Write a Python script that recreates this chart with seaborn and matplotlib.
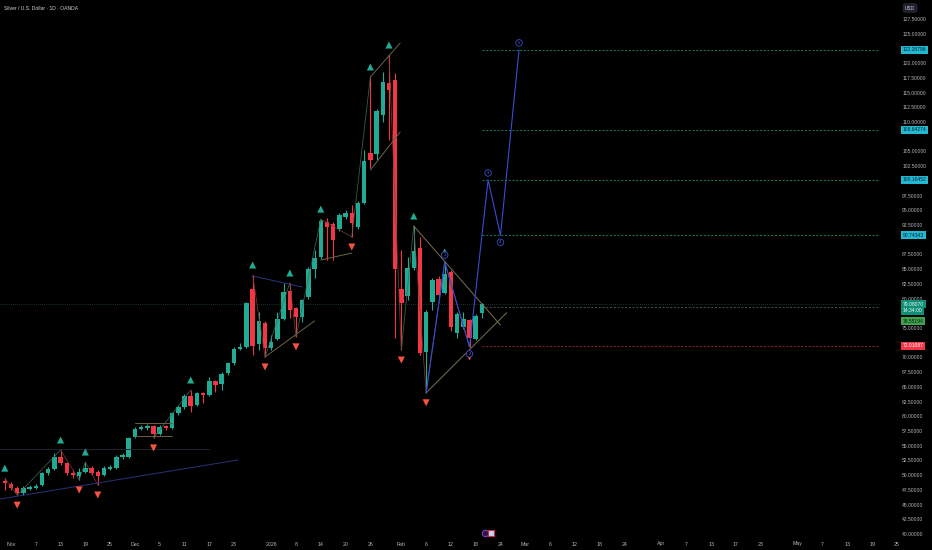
import numpy as np
import pandas as pd
import matplotlib
matplotlib.use("Agg")
import matplotlib.pyplot as plt
import seaborn as sns

# daily candles XAG/USD, 2025-10-31 .. 2026-02-19
opens = [49.01, 48.50, 47.82, 46.97, 47.65, 47.82, 48.33, 50.37, 51.05, 53.09,
         52.07, 50.37, 49.86, 50.54, 51.22, 50.54, 50.03, 51.05, 51.22, 53.10,
         53.09, 56.49, 57.85, 58.00, 58.35, 56.99, 58.35, 58.00, 60.56, 61.58,
         63.45, 61.92, 63.96, 63.62, 66.00, 65.49, 67.36, 69.06, 71.44, 71.78,
         81.63, 72.29, 75.86, 71.61, 73.14, 76.53, 81.29, 78.40, 76.87, 80.27,
         85.03, 87.07, 93.01, 92.67, 91.82, 93.86, 94.54, 92.16, 96.24, 104.73,
         104.56, 111.19, 116.63, 117.14, 81.63, 80.44, 85.20, 88.59, 70.93, 79.42,
         83.33, 80.95, 84.52, 74.16, 75.17, 76.36, 73.14, 77.55]
highs = [49.50, 48.80, 48.10, 48.20, 48.30, 48.50, 50.60, 51.40, 53.77, 54.28,
         52.30, 50.88, 51.22, 52.24, 51.50, 50.80, 51.50, 51.70, 53.40, 53.70,
         56.50, 58.10, 58.50, 58.70, 58.60, 58.50, 58.60, 60.80, 61.90, 63.80,
         64.47, 64.20, 64.20, 66.68, 66.20, 67.50, 69.30, 71.70, 72.46, 79.40,
         84.01, 77.72, 76.20, 73.82, 77.72, 82.65, 82.65, 78.60, 80.00, 85.30,
         88.25, 93.50, 93.69, 93.00, 94.50, 95.00, 95.90, 96.50, 105.25, 117.65,
         112.20, 118.50, 121.38, 118.33, 88.25, 87.07, 92.33, 90.46, 78.00, 83.50,
         83.80, 86.21, 84.80, 77.70, 77.72, 76.60, 77.40, 79.20]
lows = [47.48, 47.50, 46.60, 46.70, 47.40, 47.60, 48.10, 50.10, 50.80, 51.80,
        50.10, 49.52, 49.18, 50.30, 50.10, 48.33, 49.80, 50.80, 51.00, 52.80,
        52.90, 56.30, 57.60, 57.70, 56.32, 56.80, 57.70, 57.80, 60.30, 61.30,
        60.73, 61.70, 62.30, 63.40, 64.13, 64.47, 67.10, 68.80, 71.20, 71.60,
        70.42, 71.26, 70.08, 71.30, 72.90, 76.30, 76.70, 73.50, 76.02, 80.00,
        83.50, 86.80, 86.55, 86.55, 91.50, 93.50, 90.46, 91.90, 96.00, 102.19,
        103.54, 110.00, 106.94, 73.31, 71.26, 79.76, 84.90, 70.40, 64.00, 78.06,
        80.30, 80.70, 74.55, 73.31, 74.90, 71.78, 72.90, 76.70]
closes = [48.67, 47.82, 46.97, 47.82, 47.99, 48.16, 50.37, 51.05, 53.09, 52.07,
          50.37, 50.03, 50.54, 51.22, 50.37, 49.86, 51.22, 51.39, 53.09, 53.30,
          56.32, 57.85, 58.19, 58.35, 56.99, 58.19, 58.00, 60.56, 61.58, 63.45,
          61.75, 63.96, 63.62, 66.00, 65.32, 67.19, 69.06, 71.44, 71.78, 79.25,
          71.95, 76.20, 71.61, 72.63, 76.53, 81.12, 78.06, 76.87, 79.76, 85.03,
          86.89, 93.18, 92.16, 89.95, 94.20, 94.54, 92.84, 96.24, 103.38, 103.54,
          111.87, 116.80, 115.44, 85.03, 79.25, 85.20, 88.08, 70.76, 77.72, 83.17,
          80.61, 84.18, 75.17, 77.38, 76.53, 73.31, 77.04, 79.08]

# pivot markers (bar numbers)
pivot_high_bars = [0, 9, 13, 30, 40, 46, 51, 59, 62, 66, 71]
pivot_low_bars = [2, 12, 15, 24, 42, 47, 56, 64, 68, 75]

# wave count 0-5 (last three are projections)
wave_bars = [68, 71, 75, 78, 80, 83]
wave_prices = [64.00, 86.21, 71.78, 100.16452, 90.74343, 122.26796]
wave_names = ["", "1", "2", "3", "4", "5"]

# target levels
level_prices = [122.26796, 108.64274, 100.16452, 90.74343]
stop_price = 72.01087
prev_price = 78.55194
last_price = 79.08070
countdown = "14:34:00"

# economic event marker on the time scale
event_bar = 77.5

# hand drawn trend lines: x0, y0, x1, y1, colour
trend_x0 = [-0.78, -0.78, 21, 21, 40, 42, 59, 59, 66, 68, 51]
trend_y0 = [45.95, 54.45, 58.86, 56.60, 83.84, 70.08, 117.65, 101.85, 92.33, 64.00, 86.56]
trend_x1 = [37.6, 33, 27, 27, 48, 50, 63.8, 63.8, 80, 81, 56]
trend_y1 = [52.58, 54.45, 58.86, 56.60, 81.97, 76.20, 123.40, 108.30, 75.50, 77.60, 87.74]
trend_col = ["#26337a", "#1f2430", "#6b6246", "#6b6246", "#2a3580", "#6b6246",
             "#6b6246", "#6b6246", "#7a7050", "#7a7050", "#6b6246"]

tick_dates = ["2025-11-03", "2025-11-07", "2025-11-13", "2025-11-19", "2025-11-25",
              "2025-12-01", "2025-12-05", "2025-12-11", "2025-12-17", "2025-12-23",
              "2026-01-02", "2026-01-08", "2026-01-14", "2026-01-20", "2026-01-26",
              "2026-02-02", "2026-02-06", "2026-02-12", "2026-02-18", "2026-02-24",
              "2026-03-02", "2026-03-06", "2026-03-12", "2026-03-18", "2026-03-24",
              "2026-04-01", "2026-04-07", "2026-04-13", "2026-04-17", "2026-04-23",
              "2026-05-01", "2026-05-07", "2026-05-13", "2026-05-19", "2026-05-25"]
tick_labels = ["Nov", "7", "13", "19", "25", "Dec", "5", "11", "17", "23",
               "2026", "8", "14", "20", "26", "Feb", "6", "12", "18", "24",
               "Mar", "6", "12", "18", "24", "Apr", "7", "13", "17", "23",
               "May", "7", "13", "19", "25"]

GREEN = "#22ab94"
RED = "#f23645"
BLUE = "#3a4bd1"
TXT = "#b2b5be"

sns.set_theme(style="dark", rc={"axes.facecolor": "#000000", "figure.facecolor": "#000000"})
plt.rcParams["font.family"] = ["Liberation Sans", "DejaVu Sans"]

holidays = pd.to_datetime(["2025-12-25", "2026-01-01"])
cal = pd.bdate_range("2025-10-31", "2026-06-30")
cal = cal[~cal.isin(holidays)]
bar_of = pd.Series(np.arange(len(cal)), index=cal)

df = pd.DataFrame({"open": opens, "high": highs, "low": lows, "close": closes})
df["x"] = np.arange(len(df))
df["up"] = df["close"] >= df["open"]
df["col"] = np.where(df["up"], GREEN, RED)

fig = plt.figure(figsize=(9.32, 5.5), dpi=100)
ax = fig.add_axes([0, 13 / 550, 880 / 932, 537 / 550])
ax.set_facecolor("#000000")

# candles
ax.vlines(df["x"], df["low"], df["high"], colors=df["col"], lw=0.8, zorder=3)
body = (df["close"] - df["open"]).abs().clip(lower=0.25)
ax.bar(df["x"], body, bottom=df[["open", "close"]].min(axis=1), width=0.72,
       color=df["col"], linewidth=0, zorder=3)

# last price line
ax.axhline(last_price, color="#21463c", lw=0.6, ls=(0, (1, 1.5)), zorder=1)

# zigzag between alternating pivots
piv = pd.concat([
    pd.DataFrame({"x": pivot_high_bars, "y": df.loc[pivot_high_bars, "high"].values, "kind": "H"}),
    pd.DataFrame({"x": pivot_low_bars, "y": df.loc[pivot_low_bars, "low"].values, "kind": "L"}),
]).sort_values("x").reset_index(drop=True)
for a, b in zip(piv.index[:-1], piv.index[1:]):
    if piv.kind[a] == piv.kind[b]:
        continue
    c = "#3e6a55" if piv.y[b] > piv.y[a] else "#7a4134"
    ax.plot([piv.x[a], piv.x[b]], [piv.y[a], piv.y[b]], color=c, lw=0.6, alpha=0.85, zorder=4)

for x0, y0, x1, y1, c in zip(trend_x0, trend_y0, trend_x1, trend_y1, trend_col):
    ax.plot([x0, x1], [y0, y1], color=c, lw=0.7, zorder=4)

# pivot triangles
hi = pd.DataFrame({"x": pivot_high_bars, "y": df.loc[pivot_high_bars, "high"].values + 1.7})
lo = pd.DataFrame({"x": pivot_low_bars, "y": df.loc[pivot_low_bars, "low"].values - 1.7})
sns.scatterplot(data=hi, x="x", y="y", marker="^", s=26, color=GREEN, edgecolor="none", ax=ax, zorder=5)
sns.scatterplot(data=lo, x="x", y="y", marker="v", s=26, color="#f5523f", edgecolor="none", ax=ax, zorder=5)

# wave count
wave = pd.DataFrame({"x": wave_bars, "y": wave_prices})
sns.lineplot(data=wave, x="x", y="y", sort=False, estimator=None, color=BLUE, lw=0.8, ax=ax, zorder=6)
for i, (x, y, n) in enumerate(zip(wave_bars, wave_prices, wave_names)):
    if not n:
        continue
    dy = 5 if i % 2 == 1 else -5
    ax.annotate(n, (x, y), xytext=(0, dy), textcoords="offset points", ha="center", va="center",
                fontsize=3, color="#5b6cf0", zorder=7,
                bbox=dict(boxstyle="circle,pad=0.3", fc="#000000", ec=BLUE, lw=0.6))

# levels
x_start = df["x"].iloc[-1]
x_end = 200
for p in level_prices:
    ax.hlines(p, x_start, x_end, colors="#1e8c74", lw=0.6, ls=(0, (2.5, 2)), zorder=2)
ax.hlines(stop_price, x_start, x_end, colors="#a52a36", lw=0.6, ls=(0, (2.5, 2)), zorder=2)
ax.hlines(prev_price, x_start, x_end, colors="#4d5a55", lw=0.6, ls=(0, (2.5, 2)), zorder=2)

ax.set_xlim(1 - 11 / 6.196, 1 + 869 / 6.196)
ax.set_ylim(39.497, 130.728)

# time scale (runs on under the price scale, so drawn by hand)
ax.set_xticks([])
xax = ax.get_xaxis_transform()
for d, lab in zip(pd.to_datetime(tick_dates), tick_labels):
    ax.text(bar_of[d], -7 / 537, lab, transform=xax, ha="center", va="center",
            fontsize=3.8, color=TXT, clip_on=False)

# event icon
ax.scatter([event_bar], [0.008], transform=xax, s=22, facecolor="#2a1640", edgecolor="#8e44c8",
           lw=0.7, zorder=8, clip_on=False)
ax.scatter([event_bar + 0.9], [0.008], transform=xax, s=14, marker="s", facecolor="#c9d3f0",
           edgecolor="#c0304a", lw=0.8, zorder=8, clip_on=False)

# price scale, labels hidden where a tag sits on top
tags = level_prices + [stop_price, 77.9]
yt = np.arange(40, 127.6, 2.5)
ax.yaxis.tick_right()
ax.set_yticks(yt)
ax.set_yticklabels(["" if min(abs(v - t) for t in tags) < 1.3 else f"{v:.5f}" for v in yt])
ax.tick_params(axis="y", colors=TXT, labelsize=3.6, length=0, pad=16)
ax.set_xlabel("")
ax.set_ylabel("")
ax.grid(False)
for s in ax.spines.values():
    s.set_visible(False)

yax = ax.get_yaxis_transform()
def tag(price, text, fc, tc, dy=0):
    ax.annotate(text, (1.026, price), xycoords=yax, xytext=(0, dy), textcoords="offset points",
                ha="left", va="center", fontsize=3.6, color=tc, annotation_clip=False, zorder=10,
                bbox=dict(boxstyle="square,pad=0.3", fc=fc, ec="none"))

for p in level_prices:
    tag(p, f"{p:.5f}", "#22b8d1", "#0b2230")
tag(last_price, f"{last_price:.5f}", "#0f8f76", "#e8f5f1")
tag(last_price, countdown, "#0f8f76", "#e8f5f1", dy=-5)
tag(prev_price, f"{prev_price:.5f}", "#3fa34d", "#0a1f10", dy=-10)
tag(stop_price, f"{stop_price:.5f}", RED, "#ffffff")

fig.text(4 / 932, 1 - 8 / 550, "Silver / U.S. Dollar · 1D · OANDA", fontsize=3.6,
         color="#d1d4dc", ha="left", va="center")
fig.text(910 / 932, 1 - 8 / 550, "USD", fontsize=3.4, color="#d1d4dc", ha="center", va="center",
         bbox=dict(boxstyle="round,pad=0.5", fc="#1e222d", ec="none"))

fig.savefig("out.png", dpi=100, facecolor="#000000")
